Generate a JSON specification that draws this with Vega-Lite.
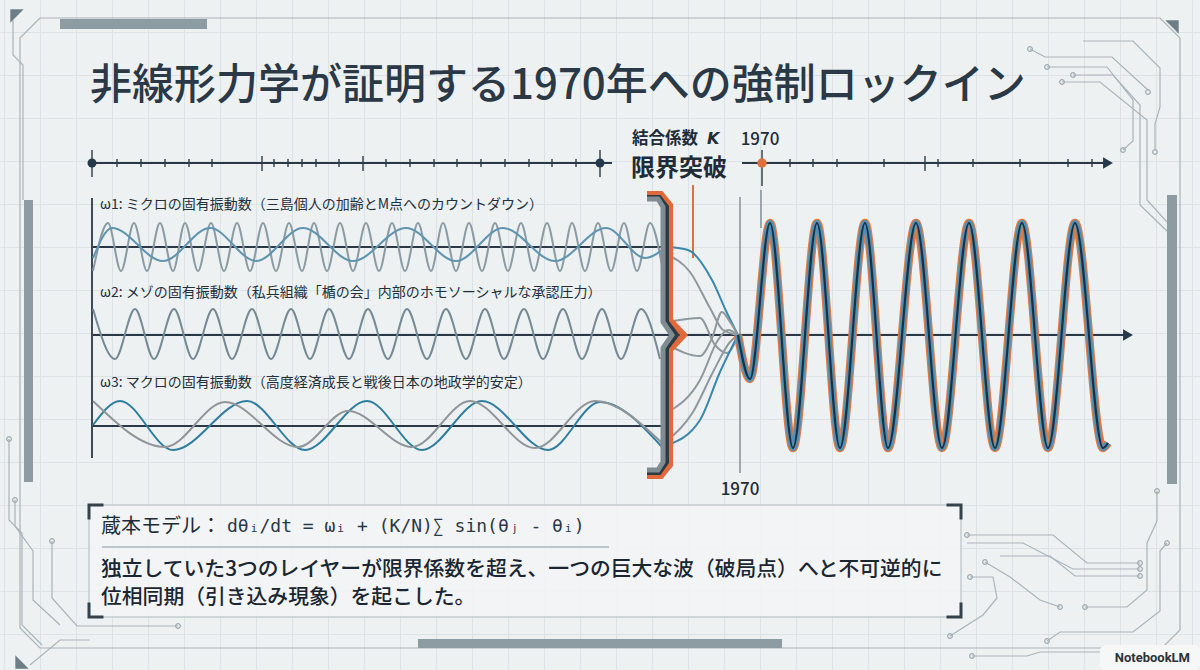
{
  "$schema": "https://vega.github.io/schema/vega-lite/v6.json",
  "width": 1200,
  "height": 670,
  "autosize": {"type": "fit", "contains": "padding"},
  "padding": 0,
  "background": "#eef1f2",
  "config": {"view": {"stroke": null}, "font": "Noto Sans CJK JP"},
  "encoding": {
    "x": {
      "field": "x", "type": "quantitative",
      "scale": {"domain": [0, 1200], "nice": false, "zero": false},
      "axis": {"values": [4,40,76,112,148,184,220,256,292,328,364,400,436,472,508,544,580,616,652,688,724,760,796,832,868,904,940,976,1012,1048,1084,1120,1156,1192],
        "grid": true, "gridColor": "#dce3e6", "gridWidth": 1, "labels": false, "ticks": false, "domain": false, "title": null, "minExtent": 0, "maxExtent": 0, "offset": 0}
    },
    "y": {
      "field": "y", "type": "quantitative",
      "scale": {"domain": [0, 670], "nice": false, "zero": false, "reverse": true},
      "axis": {"values": [32,75,118,161,204,247,290,333,376,419,462,505,548,591,634],
        "grid": true, "gridColor": "#dce3e6", "gridWidth": 1, "labels": false, "ticks": false, "domain": false, "title": null, "minExtent": 0, "maxExtent": 0, "offset": 0}
    }
  },
  "datasets": {
    "traces": [
      {"id":"frame","x":40,"y":18},{"id":"frame","x":1160,"y":18},{"id":"frame","x":1180,"y":38},{"id":"frame","x":1180,"y":630},{"id":"frame","x":1162,"y":648},{"id":"frame","x":40,"y":648},{"id":"frame","x":20,"y":628},{"id":"frame","x":20,"y":38},{"id":"frame","x":40,"y":18},
      {"id":"left2","x":13,"y":20},{"id":"left2","x":13,"y":55},{"id":"left2","x":23,"y":65},{"id":"left2","x":23,"y":200},
      {"id":"T1","x":1030,"y":49},{"id":"T1","x":1045,"y":57},{"id":"T1","x":1112,"y":57},{"id":"T1","x":1148,"y":90},
      {"id":"T2","x":1047,"y":67},{"id":"T2","x":1107,"y":67},{"id":"T2","x":1133,"y":100},{"id":"T2","x":1133,"y":141},{"id":"T2","x":1123,"y":150},
      {"id":"T3","x":1073,"y":75},{"id":"T3","x":1113,"y":75},{"id":"T3","x":1140,"y":105},{"id":"T3","x":1140,"y":205},{"id":"T3","x":1167,"y":231},
      {"id":"T4","x":1062,"y":82},{"id":"T4","x":1100,"y":82},{"id":"T4","x":1147,"y":120},{"id":"T4","x":1147,"y":200},{"id":"T4","x":1167,"y":222},
      {"id":"T5","x":1083,"y":41},{"id":"T5","x":1133,"y":41},{"id":"T5","x":1160,"y":68},{"id":"T5","x":1160,"y":107},{"id":"T5","x":1155,"y":124},{"id":"T5","x":1155,"y":150},
      {"id":"B1","x":967,"y":535},{"id":"B1","x":1053,"y":535},{"id":"B1","x":1087,"y":563},{"id":"B1","x":1140,"y":563},
      {"id":"B2","x":967,"y":543},{"id":"B2","x":1023,"y":543},{"id":"B2","x":1073,"y":569},{"id":"B2","x":1140,"y":569},
      {"id":"B9","x":1000,"y":556},{"id":"B9","x":1050,"y":556},{"id":"B9","x":1075,"y":576},{"id":"B9","x":1140,"y":576},
      {"id":"B3","x":985,"y":562},{"id":"B3","x":1010,"y":577},{"id":"B3","x":1040,"y":600},{"id":"B3","x":1060,"y":607},
      {"id":"B4","x":970,"y":577},{"id":"B4","x":993,"y":577},{"id":"B4","x":997,"y":598},{"id":"B4","x":983,"y":615},{"id":"B4","x":950,"y":636},
      {"id":"B5","x":1085,"y":607},{"id":"B5","x":1127,"y":607},{"id":"B5","x":1147,"y":590},{"id":"B5","x":1147,"y":543},{"id":"B5","x":1157,"y":521},{"id":"B5","x":1157,"y":491},
      {"id":"B6","x":1167,"y":543},{"id":"B6","x":1160,"y":551},{"id":"B6","x":1160,"y":611},{"id":"B6","x":1133,"y":632},{"id":"B6","x":1060,"y":632},{"id":"B6","x":1047,"y":641},
      {"id":"B7","x":972,"y":656},{"id":"B7","x":1027,"y":656},{"id":"B7","x":1040,"y":652},{"id":"B7","x":1100,"y":652},
      {"id":"L1","x":9,"y":439},{"id":"L1","x":9,"y":520},{"id":"L1","x":22,"y":533},{"id":"L1","x":22,"y":625},{"id":"L1","x":42,"y":645},
      {"id":"L2","x":15,"y":500},{"id":"L2","x":15,"y":526},{"id":"L2","x":33,"y":551},{"id":"L2","x":33,"y":600},{"id":"L2","x":60,"y":625},
      {"id":"L3","x":52,"y":541},{"id":"L3","x":52,"y":598},{"id":"L3","x":77,"y":626},{"id":"L3","x":178,"y":626},
      {"id":"L5","x":30,"y":665},{"id":"L5","x":60,"y":640},{"id":"L5","x":90,"y":640}
    ],
    "nodes": [
      {"x":1030,"y":49},{"x":1148,"y":92},{"x":1047,"y":67},{"x":1123,"y":150},{"x":1073,"y":75},{"x":1062,"y":82},{"x":1155,"y":152},
      {"x":967,"y":535},{"x":1140,"y":563},{"x":1140,"y":569},{"x":1140,"y":576},{"x":985,"y":562},{"x":1060,"y":607},{"x":970,"y":577},{"x":950,"y":636},
      {"x":1085,"y":607},{"x":1157,"y":491},{"x":1167,"y":543},{"x":1047,"y":641},{"x":972,"y":656},
      {"x":9,"y":439},{"x":15,"y":500},{"x":52,"y":541},{"x":178,"y":626}
    ],
    "bars": [
      {"x":24,"y":200,"x2":33,"y2":482},
      {"x":1167,"y":195,"x2":1177,"y2":484},
      {"x":60,"y":19,"x2":207,"y2":29},
      {"x":418,"y":639,"x2":782,"y2":648}
    ],
    "rules": [
      {"k":"axis","x":93,"y":247,"x2":662,"y2":247},
      {"k":"axis","x":93,"y":335,"x2":1124,"y2":335},
      {"k":"axis","x":93,"y":426,"x2":662,"y2":426},
      {"k":"axis","x":92,"y":198,"x2":92,"y2":458},
      {"k":"axis","x":92,"y":163,"x2":612,"y2":163},
      {"k":"axis","x":742,"y":163,"x2":1104,"y2":163},
      {"k":"major","x":92,"y":150,"x2":92,"y2":177},
      {"k":"major","x":600,"y":150,"x2":600,"y2":177},
      {"k":"major","x":762,"y":150,"x2":762,"y2":186},
      {"k":"major","x":262,"y":156,"x2":262,"y2":171},
      {"k":"major","x":363,"y":156,"x2":363,"y2":171},
      {"k":"major","x":925,"y":156,"x2":925,"y2":171},
      {"k":"minor","x":117,"y":159,"x2":117,"y2":167},{"k":"minor","x":141,"y":159,"x2":141,"y2":167},{"k":"minor","x":165,"y":159,"x2":165,"y2":167},
      {"k":"minor","x":189,"y":159,"x2":189,"y2":167},{"k":"minor","x":212,"y":159,"x2":212,"y2":167},{"k":"minor","x":274,"y":159,"x2":274,"y2":167},
      {"k":"minor","x":288,"y":159,"x2":288,"y2":167},{"k":"minor","x":302,"y":159,"x2":302,"y2":167},{"k":"minor","x":316,"y":159,"x2":316,"y2":167},
      {"k":"minor","x":339,"y":159,"x2":339,"y2":167},{"k":"minor","x":386,"y":159,"x2":386,"y2":167},{"k":"minor","x":410,"y":159,"x2":410,"y2":167},
      {"k":"minor","x":434,"y":159,"x2":434,"y2":167},{"k":"minor","x":457,"y":159,"x2":457,"y2":167},{"k":"minor","x":481,"y":159,"x2":481,"y2":167},
      {"k":"minor","x":505,"y":159,"x2":505,"y2":167},{"k":"minor","x":529,"y":159,"x2":529,"y2":167},{"k":"minor","x":552,"y":159,"x2":552,"y2":167},
      {"k":"minor","x":576,"y":159,"x2":576,"y2":167},{"k":"minor","x":790,"y":159,"x2":790,"y2":167},{"k":"minor","x":813,"y":159,"x2":813,"y2":167},
      {"k":"minor","x":837,"y":159,"x2":837,"y2":167},{"k":"minor","x":884,"y":159,"x2":884,"y2":167},{"k":"minor","x":938,"y":159,"x2":938,"y2":167},
      {"k":"minor","x":973,"y":159,"x2":973,"y2":167},{"k":"minor","x":1020,"y":159,"x2":1020,"y2":167},{"k":"minor","x":1068,"y":159,"x2":1068,"y2":167},
      {"k":"minor","x":1092,"y":159,"x2":1092,"y2":167},
      {"k":"guide","x":740,"y":197,"x2":740,"y2":473},
      {"k":"guide","x":761,"y":190,"x2":761,"y2":228},
      {"k":"orange","x":693,"y":185,"x2":693,"y2":258},
      {"k":"sep","x":102,"y":547,"x2":609,"y2":547}
    ],
    "waves": [
      {"s":"w1_fast","x":93,"y":271},{"s":"w1_fast","x":108,"y":223},{"s":"w1_fast","x":121,"y":271},{"s":"w1_fast","x":134,"y":223},{"s":"w1_fast","x":147,"y":271},
      {"s":"w1_fast","x":160,"y":223},{"s":"w1_fast","x":173,"y":271},{"s":"w1_fast","x":185,"y":223},{"s":"w1_fast","x":198,"y":271},{"s":"w1_fast","x":211,"y":223},
      {"s":"w1_fast","x":224,"y":271},{"s":"w1_fast","x":237,"y":223},{"s":"w1_fast","x":250,"y":271},{"s":"w1_fast","x":263,"y":223},{"s":"w1_fast","x":276,"y":271},
      {"s":"w1_fast","x":289,"y":223},{"s":"w1_fast","x":302,"y":271},{"s":"w1_fast","x":314,"y":223},{"s":"w1_fast","x":327,"y":271},{"s":"w1_fast","x":340,"y":223},
      {"s":"w1_fast","x":353,"y":271},{"s":"w1_fast","x":366,"y":223},{"s":"w1_fast","x":379,"y":271},{"s":"w1_fast","x":392,"y":223},{"s":"w1_fast","x":405,"y":271},
      {"s":"w1_fast","x":418,"y":223},{"s":"w1_fast","x":431,"y":271},{"s":"w1_fast","x":443,"y":223},{"s":"w1_fast","x":456,"y":271},{"s":"w1_fast","x":469,"y":223},
      {"s":"w1_fast","x":482,"y":271},{"s":"w1_fast","x":495,"y":223},{"s":"w1_fast","x":508,"y":271},{"s":"w1_fast","x":521,"y":223},{"s":"w1_fast","x":534,"y":271},
      {"s":"w1_fast","x":547,"y":223},{"s":"w1_fast","x":560,"y":271},{"s":"w1_fast","x":572,"y":223},{"s":"w1_fast","x":585,"y":271},{"s":"w1_fast","x":598,"y":223},
      {"s":"w1_fast","x":611,"y":271},{"s":"w1_fast","x":624,"y":223},{"s":"w1_fast","x":637,"y":271},{"s":"w1_fast","x":650,"y":223},{"s":"w1_fast","x":663,"y":271},
      {"s":"w1_slow","x":93,"y":258},{"s":"w1_slow","x":112,"y":228},{"s":"w1_slow","x":163,"y":261},{"s":"w1_slow","x":210,"y":228},{"s":"w1_slow","x":256,"y":261},
      {"s":"w1_slow","x":303,"y":228},{"s":"w1_slow","x":353,"y":261},{"s":"w1_slow","x":406,"y":228},{"s":"w1_slow","x":456,"y":261},{"s":"w1_slow","x":503,"y":228},
      {"s":"w1_slow","x":555,"y":261},{"s":"w1_slow","x":606,"y":228},{"s":"w1_slow","x":645,"y":258},{"s":"w1_slow","x":665,"y":248},
      {"s":"w2","x":93,"y":309},{"s":"w2","x":115,"y":359},{"s":"w2","x":135,"y":309},{"s":"w2","x":154,"y":359},{"s":"w2","x":174,"y":309},{"s":"w2","x":193,"y":359},
      {"s":"w2","x":213,"y":309},{"s":"w2","x":232,"y":359},{"s":"w2","x":252,"y":309},{"s":"w2","x":271,"y":359},{"s":"w2","x":291,"y":309},{"s":"w2","x":310,"y":359},
      {"s":"w2","x":329,"y":309},{"s":"w2","x":349,"y":359},{"s":"w2","x":368,"y":309},{"s":"w2","x":388,"y":359},{"s":"w2","x":407,"y":309},{"s":"w2","x":427,"y":359},
      {"s":"w2","x":446,"y":309},{"s":"w2","x":466,"y":359},{"s":"w2","x":485,"y":309},{"s":"w2","x":504,"y":359},{"s":"w2","x":524,"y":309},{"s":"w2","x":543,"y":359},
      {"s":"w2","x":563,"y":309},{"s":"w2","x":582,"y":359},{"s":"w2","x":602,"y":309},{"s":"w2","x":621,"y":359},{"s":"w2","x":641,"y":309},{"s":"w2","x":660,"y":359},
      {"s":"w3_blue","x":93,"y":425},{"s":"w3_blue","x":120,"y":401},{"s":"w3_blue","x":173,"y":450},{"s":"w3_blue","x":247,"y":401},{"s":"w3_blue","x":305,"y":450},
      {"s":"w3_blue","x":367,"y":401},{"s":"w3_blue","x":422,"y":450},{"s":"w3_blue","x":482,"y":401},{"s":"w3_blue","x":548,"y":450},{"s":"w3_blue","x":600,"y":402},
      {"s":"w3_blue","x":662,"y":447},
      {"s":"w3_gray","x":93,"y":401},{"s":"w3_gray","x":165,"y":447},{"s":"w3_gray","x":225,"y":402},{"s":"w3_gray","x":298,"y":447},{"s":"w3_gray","x":348,"y":411},
      {"s":"w3_gray","x":412,"y":447},{"s":"w3_gray","x":470,"y":401},{"s":"w3_gray","x":535,"y":448},{"s":"w3_gray","x":595,"y":401},{"s":"w3_gray","x":663,"y":444},
      {"s":"c1_blue","x":668,"y":247},{"s":"c1_blue","x":688,"y":250},{"s":"c1_blue","x":712,"y":280},{"s":"c1_blue","x":727,"y":313},{"s":"c1_blue","x":738,"y":335},
      {"s":"c1_gray","x":668,"y":255},{"s":"c1_gray","x":690,"y":272},{"s":"c1_gray","x":710,"y":308},{"s":"c1_gray","x":723,"y":330},{"s":"c1_gray","x":738,"y":335},
      {"s":"c2_a","x":668,"y":345},{"s":"c2_a","x":700,"y":356},{"s":"c2_a","x":712,"y":338},{"s":"c2_a","x":722,"y":312},{"s":"c2_a","x":730,"y":322},{"s":"c2_a","x":738,"y":335},
      {"s":"c2_b","x":668,"y":322},{"s":"c2_b","x":700,"y":318},{"s":"c2_b","x":715,"y":345},{"s":"c2_b","x":727,"y":353},{"s":"c2_b","x":738,"y":335},
      {"s":"c3_blue","x":668,"y":445},{"s":"c3_blue","x":700,"y":420},{"s":"c3_blue","x":720,"y":372},{"s":"c3_blue","x":738,"y":335},
      {"s":"c3_gray","x":668,"y":440},{"s":"c3_gray","x":693,"y":412},{"s":"c3_gray","x":713,"y":372},{"s":"c3_gray","x":730,"y":342},{"s":"c3_gray","x":738,"y":335},
      {"s":"c3_gray2","x":668,"y":412},{"s":"c3_gray2","x":700,"y":380},{"s":"c3_gray2","x":718,"y":340},{"s":"c3_gray2","x":728,"y":330},{"s":"c3_gray2","x":738,"y":335}
    ],
    "sync": [
      {"x":738,"y":335},{"x":750,"y":379},{"x":770,"y":223},{"x":793,"y":448},{"x":817,"y":223},{"x":840,"y":448},{"x":865,"y":223},{"x":888,"y":448},
      {"x":916,"y":223},{"x":942,"y":448},{"x":969,"y":223},{"x":995,"y":448},{"x":1022,"y":223},{"x":1048,"y":448},{"x":1075,"y":223},{"x":1103,"y":448},{"x":1108,"y":443}
    ],
    "brace": [
      {"part":"orange","x":647,"y":194},{"part":"orange","x":661,"y":194},{"part":"orange","x":670,"y":205},{"part":"orange","x":670,"y":320},{"part":"orange","x":684,"y":335},
      {"part":"orange","x":670,"y":350},{"part":"orange","x":670,"y":465},{"part":"orange","x":661,"y":476},{"part":"orange","x":647,"y":476},
      {"part":"dark","x":647,"y":198},{"part":"dark","x":659,"y":198},{"part":"dark","x":666,"y":207},{"part":"dark","x":666,"y":322},{"part":"dark","x":676,"y":335},
      {"part":"dark","x":666,"y":348},{"part":"dark","x":666,"y":462},{"part":"dark","x":659,"y":472},{"part":"dark","x":647,"y":472},
      {"part":"gray","x":647,"y":199},{"part":"gray","x":658,"y":199},{"part":"gray","x":663,"y":207},{"part":"gray","x":663,"y":322},{"part":"gray","x":672,"y":335},
      {"part":"gray","x":663,"y":348},{"part":"gray","x":663,"y":462},{"part":"gray","x":658,"y":470},{"part":"gray","x":647,"y":470}
    ],
    "brackets": [
      {"id":"tl","x":89,"y":518},{"id":"tl","x":89,"y":505},{"id":"tl","x":102,"y":505},
      {"id":"tr","x":948,"y":505},{"id":"tr","x":961,"y":505},{"id":"tr","x":961,"y":518},
      {"id":"bl","x":89,"y":604},{"id":"bl","x":89,"y":617},{"id":"bl","x":102,"y":617},
      {"id":"br","x":948,"y":617},{"id":"br","x":961,"y":617},{"id":"br","x":961,"y":604}
    ]
  },
  "layer": [
    {"data": {"name": "traces"}, "mark": {"type": "line", "color": "#a9b4ba", "strokeWidth": 1.2}, "encoding": {"detail": {"field": "id"}, "order": {"value": null}}},
    {"data": {"name": "nodes"}, "mark": {"type": "point", "filled": false, "stroke": "#9eaab1", "strokeWidth": 1.2, "size": 22, "opacity": 1}},
    {"data": {"name": "bars"}, "mark": {"type": "rect", "color": "#8d9ba3"}, "encoding": {"x2": {"field": "x2"}, "y2": {"field": "y2"}}},
    {"data": {"values": [{"c":"tl","x":17,"y":16},{"c":"tr","x":1172,"y":27},{"c":"bl","x":22,"y":662}]},
     "mark": {"type": "point", "filled": true, "color": "#6e7e87", "size": 180, "opacity": 1},
     "encoding": {"shape": {"field": "c", "type": "nominal", "scale": {"domain": ["tl","tr","bl"], "range": ["M-1,-1L1,-1L-1,1Z","M-1,-1L1,-1L1,1Z","M-1,-1L1,1L-1,1Z"]}, "legend": null}}},
    {"data": {"values": [{"x":89,"y":505,"x2":961,"y2":617}]}, "mark": {"type": "rect", "fill": "#f2f4f5", "fillOpacity": 0.9, "stroke": "#c3cbd0", "strokeWidth": 1.5}, "encoding": {"x2": {"field": "x2"}, "y2": {"field": "y2"}}},
    {"data": {"name": "brackets"}, "mark": {"type": "line", "color": "#34424d", "strokeWidth": 3, "strokeCap": "square"}, "encoding": {"detail": {"field": "id"}, "order": {"value": null}}},
    {"data": {"name": "rules"}, "transform": [{"filter": "datum.k == 'axis'"}], "mark": {"type": "rule", "color": "#2b3946", "strokeWidth": 1.8}, "encoding": {"x2": {"field": "x2"}, "y2": {"field": "y2"}}},
    {"data": {"name": "rules"}, "transform": [{"filter": "datum.k == 'major' || datum.k == 'minor'"}], "mark": {"type": "rule", "color": "#2b3946", "strokeWidth": 1.4}, "encoding": {"x2": {"field": "x2"}, "y2": {"field": "y2"}}},
    {"data": {"name": "rules"}, "transform": [{"filter": "datum.k == 'guide'"}], "mark": {"type": "rule", "color": "#56616a", "strokeWidth": 1}, "encoding": {"x2": {"field": "x2"}, "y2": {"field": "y2"}}},
    {"data": {"name": "rules"}, "transform": [{"filter": "datum.k == 'orange'"}], "mark": {"type": "rule", "color": "#e0703a", "strokeWidth": 2}, "encoding": {"x2": {"field": "x2"}, "y2": {"field": "y2"}}},
    {"data": {"name": "rules"}, "transform": [{"filter": "datum.k == 'sep'"}], "mark": {"type": "rule", "color": "#bcc6cb", "strokeWidth": 2}, "encoding": {"x2": {"field": "x2"}, "y2": {"field": "y2"}}},
    {"data": {"name": "waves"}, "mark": {"type": "line", "interpolate": "monotone", "strokeWidth": 2},
     "encoding": {"color": {"field": "s", "type": "nominal", "legend": null,
       "scale": {"domain": ["w1_fast","w1_slow","w2","w3_blue","w3_gray","c1_blue","c1_gray","c2_a","c2_b","c3_blue","c3_gray","c3_gray2"],
                 "range": ["#8a9ba4","#5f95b0","#748a95","#2f7ea0","#8f9599","#3a88ab","#8f989d","#8f989d","#8f989d","#3a88ab","#8f989d","#8f989d"]}}}},
    {"data": {"name": "brace"}, "transform": [{"filter": "datum.part == 'orange'"}], "mark": {"type": "line", "color": "#e2693a", "strokeWidth": 6, "strokeJoin": "miter"}, "encoding": {"order": {"value": null}}},
    {"data": {"name": "brace"}, "transform": [{"filter": "datum.part == 'dark'"}], "mark": {"type": "line", "color": "#2f3a42", "strokeWidth": 6, "strokeJoin": "miter"}, "encoding": {"order": {"value": null}}},
    {"data": {"name": "brace"}, "transform": [{"filter": "datum.part == 'gray'"}], "mark": {"type": "line", "color": "#7f8c93", "strokeWidth": 5, "strokeJoin": "miter"}, "encoding": {"order": {"value": null}}},
    {"data": {"name": "sync"}, "mark": {"type": "line", "interpolate": "monotone", "color": "#e07a45", "strokeWidth": 8.5}},
    {"data": {"name": "sync"}, "mark": {"type": "line", "interpolate": "monotone", "color": "#4f90b4", "strokeWidth": 6}},
    {"data": {"name": "sync"}, "mark": {"type": "line", "interpolate": "monotone", "color": "#1c3043", "strokeWidth": 2.2}},
    {"data": {"values": [{"x":92,"y":163},{"x":600,"y":163}]}, "mark": {"type": "point", "filled": true, "color": "#26394a", "size": 80, "opacity": 1}},
    {"data": {"values": [{"x":762,"y":163}]}, "mark": {"type": "point", "filled": true, "color": "#e0703a", "size": 90, "opacity": 1}},
    {"data": {"values": [{"x":1108,"y":163},{"x":1128,"y":335}]}, "mark": {"type": "point", "shape": "triangle-right", "filled": true, "color": "#26394a", "size": 130, "opacity": 1}},
    {"data": {"values": [{"x":1100,"y":645,"x2":1200,"y2":670}]}, "mark": {"type": "rect", "fill": "#f6f7f7", "cornerRadius": 6}, "encoding": {"x2": {"field": "x2"}, "y2": {"field": "y2"}}},
    {"data": {"values": [{"t":"非線形力学が証明する1970年への強制ロックイン","x":90,"y":86}]},
     "mark": {"type": "text", "align": "left", "baseline": "middle", "fontSize": 42, "fontWeight": 500, "color": "#2b3946", "font": "Noto Sans CJK JP"}, "encoding": {"text": {"field": "t"}}},
    {"data": {"values": [
       {"t":"ω1: ミクロの固有振動数（三島個人の加齢とM点へのカウントダウン）","x":100,"y":205},
       {"t":"ω2: メゾの固有振動数（私兵組織「楯の会」内部のホモソーシャルな承認圧力）","x":100,"y":293},
       {"t":"ω3: マクロの固有振動数（高度経済成長と戦後日本の地政学的安定）","x":100,"y":383}]},
     "mark": {"type": "text", "align": "left", "baseline": "middle", "fontSize": 14, "color": "#22303c", "font": "Noto Sans CJK JP"}, "encoding": {"text": {"field": "t"}}},
    {"data": {"values": [{"t":"結合係数","x":632,"y":139}]},
     "mark": {"type": "text", "align": "left", "baseline": "middle", "fontSize": 16.5, "fontWeight": "bold", "color": "#1f2c38", "font": "Noto Sans CJK JP"}, "encoding": {"text": {"field": "t"}}},
    {"data": {"values": [{"t":"K","x":707,"y":139}]},
     "mark": {"type": "text", "align": "left", "baseline": "middle", "fontSize": 16, "fontWeight": "bold", "fontStyle": "italic", "color": "#1f2c38", "font": "DejaVu Sans"}, "encoding": {"text": {"field": "t"}}},
    {"data": {"values": [{"t":"限界突破","x":631,"y":169}]},
     "mark": {"type": "text", "align": "left", "baseline": "middle", "fontSize": 24, "fontWeight": "bold", "color": "#1f2c38", "font": "Noto Sans CJK JP"}, "encoding": {"text": {"field": "t"}}},
    {"data": {"values": [{"t":"1970","x":760,"y":140},{"t":"1970","x":740,"y":490}]},
     "mark": {"type": "text", "align": "center", "baseline": "middle", "fontSize": 17, "fontWeight": 500, "color": "#1f2c38", "font": "Noto Sans CJK JP"}, "encoding": {"text": {"field": "t"}}},
    {"data": {"values": [{"t":"蔵本モデル：","x":101,"y":527}]},
     "mark": {"type": "text", "align": "left", "baseline": "middle", "fontSize": 20, "color": "#1f2c38", "font": "Noto Sans CJK JP"}, "encoding": {"text": {"field": "t"}}},
    {"data": {"values": [{"t":"dθᵢ/dt = ωᵢ + (K/N)∑ sin(θⱼ - θᵢ)","x":227,"y":527}]},
     "mark": {"type": "text", "align": "left", "baseline": "middle", "fontSize": 18, "color": "#2b3946", "font": "DejaVu Sans Mono"}, "encoding": {"text": {"field": "t"}}},
    {"data": {"values": [
       {"t":"独立していた3つのレイヤーが限界係数を超え、一つの巨大な波（破局点）へと不可逆的に","x":101,"y":570},
       {"t":"位相同期（引き込み現象）を起こした。","x":101,"y":598}]},
     "mark": {"type": "text", "align": "left", "baseline": "middle", "fontSize": 20.8, "fontWeight": 500, "color": "#1a2631", "font": "Noto Sans CJK JP"}, "encoding": {"text": {"field": "t"}}},
    {"data": {"values": [{"t":"NotebookLM","x":1190,"y":658}]},
     "mark": {"type": "text", "align": "right", "baseline": "middle", "fontSize": 13, "fontWeight": "bold", "color": "#2d3338", "font": "Roboto"}, "encoding": {"text": {"field": "t"}}}
  ]
}
